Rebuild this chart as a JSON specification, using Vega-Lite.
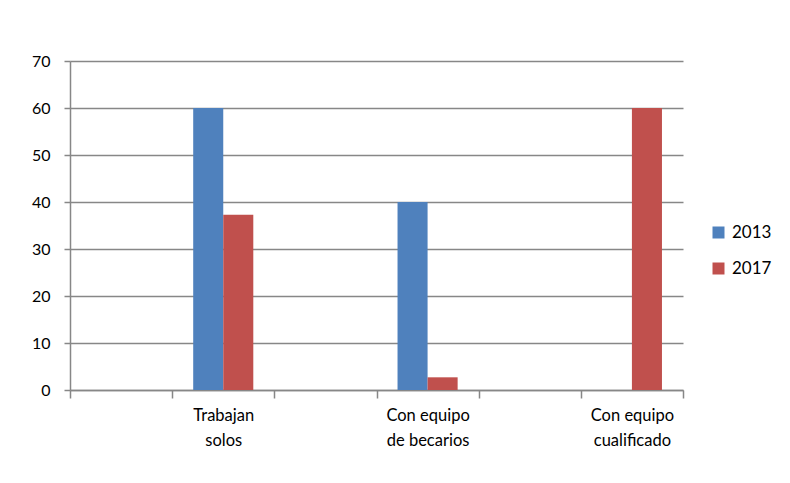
{
  "$schema": "https://vega.github.io/schema/vega-lite/v6.json",
  "autosize": "none",
  "width": 613,
  "height": 329,
  "padding": {"left": 70, "top": 61, "right": 107, "bottom": 93},
  "background": "white",
  "data": {
    "values": [
      {"grupo": "Trabajan solos", "año": "2013", "valor": 60},
      {"grupo": "Trabajan solos", "año": "2017", "valor": 37.3},
      {"grupo": "Con equipo de becarios", "año": "2013", "valor": 40},
      {"grupo": "Con equipo de becarios", "año": "2017", "valor": 2.7},
      {"grupo": "Con equipo cualificado", "año": "2013", "valor": 0},
      {"grupo": "Con equipo cualificado", "año": "2017", "valor": 60}
    ]
  },
  "config": {
    "view": {"stroke": null},
    "font": "Lato",
    "axis": {
      "labelFont": "Lato",
      "labelFontSize": 16,
      "labelColor": "#000000",
      "domainColor": "#878787",
      "tickColor": "#878787",
      "domainWidth": 1.5,
      "tickWidth": 1.5,
      "title": null
    }
  },
  "mark": {"type": "bar"},
  "encoding": {
    "x": {
      "field": "grupo",
      "type": "nominal",
      "sort": null,
      "scale": {
        "domain": [" ", "Trabajan solos", "  ", "Con equipo de becarios", "   ", "Con equipo cualificado"],
        "paddingInner": 0,
        "paddingOuter": 0
      },
      "axis": {
        "labelAngle": 0,
        "tickBand": "extent",
        "tickSize": 8,
        "labelPadding": 9,
        "labelLineHeight": 25,
        "labelBaseline": "top",
        "labelFontSize": 16.5,
        "labelExpr": "datum.label == 'Trabajan solos' ? ['Trabajan', 'solos'] : datum.label == 'Con equipo de becarios' ? ['Con equipo', 'de becarios'] : datum.label == 'Con equipo cualificado' ? ['Con equipo', 'cualificado'] : ''"
      }
    },
    "xOffset": {
      "field": "año",
      "type": "nominal",
      "scale": {"paddingInner": 0, "paddingOuter": 0.7}
    },
    "y": {
      "field": "valor",
      "type": "quantitative",
      "scale": {"domain": [0, 70], "nice": false},
      "axis": {
        "values": [0, 10, 20, 30, 40, 50, 60, 70],
        "grid": true,
        "gridColor": "#878787",
        "gridWidth": 1.5,
        "tickSize": 6,
        "labelPadding": 14
      }
    },
    "color": {
      "field": "año",
      "type": "nominal",
      "scale": {"domain": ["2013", "2017"], "range": ["#4F81BD", "#C0504D"]},
      "legend": {
        "title": null,
        "orient": "none",
        "legendX": 640,
        "legendY": 163,
        "symbolType": "square",
        "symbolSize": 144,
        "symbolStrokeWidth": 0,
        "labelFontSize": 17,
        "labelFont": "Lato",
        "labelColor": "#000000",
        "labelOffset": 5,
        "rowPadding": 18
      }
    }
  }
}
